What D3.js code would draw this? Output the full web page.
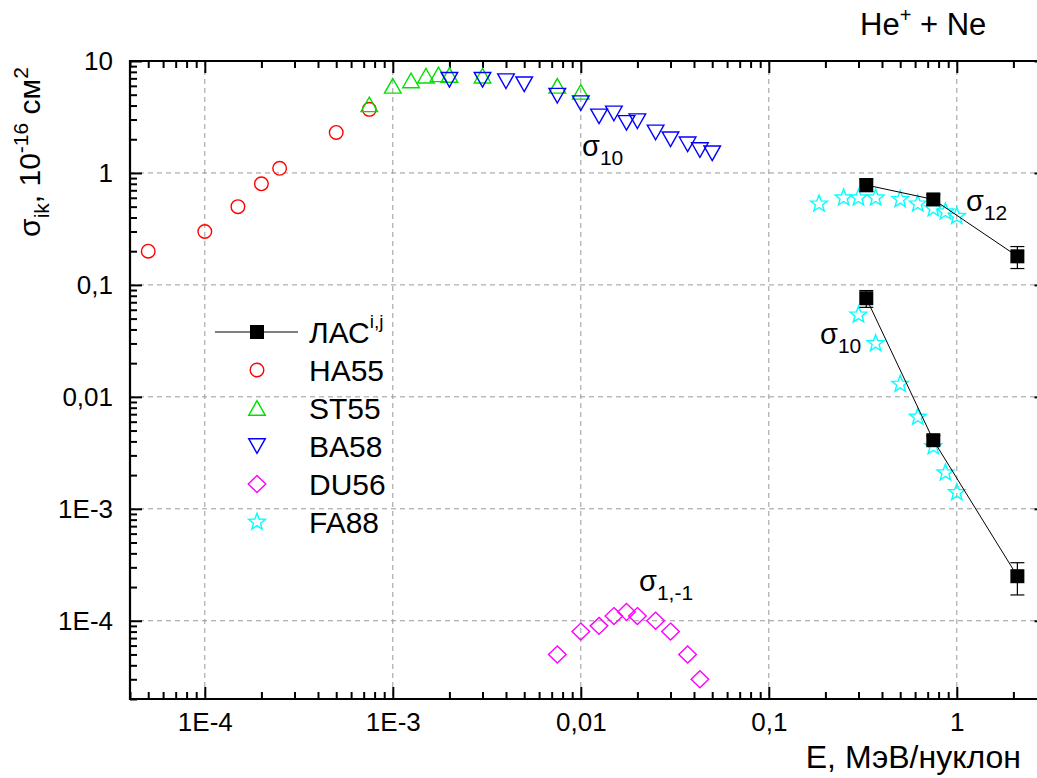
<!DOCTYPE html>
<html>
<head>
<meta charset="utf-8">
<script src="https://cdn.jsdelivr.net/npm/d3@7/dist/d3.min.js"></script>
<style>
  html, body { margin: 0; padding: 0; background: #fff; }
  svg { display: block; font-family: Arial, "Liberation Sans", sans-serif; }
</style>
</head>
<body>
<svg id="chart" width="1037" height="778"></svg>
<script>
// Energy (MeV/nucleon) and cross sections (10^-16 cm^2) for He+ + Ne
const ha55E = [5e-5, 1e-4, 1.5e-4, 2e-4, 2.5e-4, 5e-4, 7.5e-4];
const ha55S = [0.2, 0.3, 0.5, 0.8, 1.1, 2.3, 3.7];

const st55E = [7.5e-4, 1e-3, 1.25e-3, 1.5e-3, 1.75e-3, 2e-3, 3e-3, 7.5e-3, 0.01];
const st55S = [4.1, 6.0, 6.7, 7.4, 7.6, 7.5, 7.4, 6.0, 5.3];

const ba58E = [2e-3, 3e-3, 4e-3, 5e-3, 7.5e-3, 0.01, 0.0125, 0.015, 0.0175, 0.02, 0.025, 0.03, 0.037, 0.043, 0.05];
const ba58S = [6.8, 6.8, 6.6, 6.2, 4.9, 4.2, 3.2, 3.4, 2.8, 2.9, 2.3, 2.0, 1.8, 1.6, 1.5];

const du56E = [7.5e-3, 0.01, 0.0125, 0.015, 0.0175, 0.02, 0.025, 0.03, 0.037, 0.043];
const du56S = [5e-5, 8e-5, 9e-5, 1.1e-4, 1.2e-4, 1.1e-4, 1e-4, 8e-5, 5e-5, 3e-5];

const fa88E = [0.185, 0.25, 0.3, 0.37, 0.5, 0.62, 0.75, 0.87, 1.0,
               0.3, 0.37, 0.5, 0.62, 0.75, 0.87, 1.0];
const fa88S = [0.53, 0.6, 0.6, 0.6, 0.58, 0.53, 0.48, 0.45, 0.41,
               0.054, 0.03, 0.013, 0.0066, 0.0036, 0.0021, 0.0014];

// ЛАС measurements, two channels, with error bars
const lasE = [0.33, 0.75, 2.1];
const las12S = [0.78, 0.58, 0.18];
const las12Err = [0.1, 0.06, 0.04];
const las10S = [0.076, 0.0041, 0.00025];
const las10Err = [0.013, 0.0004, 0.00008];

const xMajor = [1e-4, 1e-3, 0.01, 0.1, 1];
const xMajorLabels = ["1E-4", "1E-3", "0,01", "0,1", "1"];
const yMajor = [1e-4, 1e-3, 0.01, 0.1, 1, 10];
const yMajorLabels = ["1E-4", "1E-3", "0,01", "0,1", "1", "10"];

const legendNames = ["ЛАС", "HA55", "ST55", "BA58", "DU56", "FA88"];

const svg = d3.select("#chart");
const plotLeft = 130, plotRight = 1046.5, plotTop = 61, plotBottom = 699;

const x = d3.scaleLog().domain([4e-5, 3]).range([plotLeft, plotRight]);
const y = d3.scaleLog().domain([2e-5, 10]).range([plotBottom, plotTop]);

function minorTicks(lo, hi) {
  const out = [];
  for (let e = Math.floor(Math.log10(lo)); e <= Math.ceil(Math.log10(hi)); e++) {
    for (let k = 2; k <= 9; k++) {
      const v = k * Math.pow(10, e);
      if (v >= lo && v <= hi) out.push(v);
    }
  }
  return out;
}
const xMinor = minorTicks(4e-5, 3);
const yMinor = minorTicks(2e-5, 10);

// grid
const grid = svg.append("g").attr("stroke", "#999").attr("stroke-width", 1)
  .attr("stroke-dasharray", "5,4");
grid.selectAll("line.gx").data(xMajor).join("line").attr("class", "gx")
  .attr("x1", d => x(d)).attr("x2", d => x(d)).attr("y1", plotTop).attr("y2", plotBottom);
grid.selectAll("line.gy").data(yMajor.filter(v => v < 10)).join("line").attr("class", "gy")
  .attr("x1", plotLeft).attr("x2", plotRight).attr("y1", d => y(d)).attr("y2", d => y(d));

// axes
function styleAxis(g) {
  g.select(".domain").remove();
  g.selectAll(".tick line").attr("stroke", "#000").attr("stroke-width", 2);
  g.selectAll(".tick text").attr("fill", "#000").attr("font-size", 26)
    .attr("font-family", "Arial, 'Liberation Sans', sans-serif");
}
// bottom
svg.append("g").attr("transform", `translate(0,${plotBottom})`)
  .call(d3.axisBottom(x).tickValues(xMajor).tickSize(-12).tickPadding(14)
    .tickFormat((d, i) => xMajorLabels[i]))
  .call(styleAxis);
svg.append("g").attr("transform", `translate(0,${plotBottom})`)
  .call(d3.axisBottom(x).tickValues(xMinor).tickSize(-7).tickFormat(""))
  .call(styleAxis);
// top
svg.append("g").attr("transform", `translate(0,${plotTop})`)
  .call(d3.axisTop(x).tickValues(xMajor).tickSize(-12).tickFormat(""))
  .call(styleAxis);
svg.append("g").attr("transform", `translate(0,${plotTop})`)
  .call(d3.axisTop(x).tickValues(xMinor).tickSize(-7).tickFormat(""))
  .call(styleAxis);
// left
svg.append("g").attr("transform", `translate(${plotLeft},0)`)
  .call(d3.axisLeft(y).tickValues(yMajor).tickSize(-12).tickPadding(17)
    .tickFormat((d, i) => yMajorLabels[i]))
  .call(styleAxis);
svg.append("g").attr("transform", `translate(${plotLeft},0)`)
  .call(d3.axisLeft(y).tickValues(yMinor).tickSize(-7).tickFormat(""))
  .call(styleAxis);
// right
svg.append("g").attr("transform", `translate(${plotRight},0)`)
  .call(d3.axisRight(y).tickValues(yMajor).tickSize(-12).tickFormat(""))
  .call(styleAxis);
svg.append("g").attr("transform", `translate(${plotRight},0)`)
  .call(d3.axisRight(y).tickValues(yMinor).tickSize(-7).tickFormat(""))
  .call(styleAxis);

// frame
const frame = svg.append("g").attr("stroke", "#000").attr("stroke-width", 2.2).attr("fill", "none");
frame.append("line").attr("x1", plotLeft).attr("x2", plotLeft).attr("y1", plotTop - 1).attr("y2", plotBottom + 1);
frame.append("line").attr("x1", plotLeft - 1).attr("x2", plotRight).attr("y1", plotBottom).attr("y2", plotBottom);
frame.append("line").attr("x1", plotLeft - 1).attr("x2", plotRight).attr("y1", plotTop).attr("y2", plotTop);
frame.append("line").attr("x1", plotRight).attr("x2", plotRight).attr("y1", plotTop).attr("y2", plotBottom);

// marker shapes
function shapePath(type) {
  switch (type) {
    case "circle": {
      const r = 6.8;
      return `M${r},0A${r},${r} 0 1,1 ${-r},0A${r},${r} 0 1,1 ${r},0Z`;
    }
    case "up": return "M0,-7.3L8.3,7.3L-8.3,7.3Z";
    case "down": return "M0,7.3L8.3,-7.3L-8.3,-7.3Z";
    case "diamond": return "M0,-8.5L8.8,0L0,8.5L-8.8,0Z";
    case "square": return "M-7,-7L7,-7L7,7L-7,7Z";
    case "star": {
      const R = 8.8, r = 3.7;
      let p = "";
      for (let i = 0; i < 10; i++) {
        const a = -Math.PI / 2 + i * Math.PI / 5;
        const rr = i % 2 === 0 ? R : r;
        p += (i === 0 ? "M" : "L") + (rr * Math.cos(a)).toFixed(2) + "," + (rr * Math.sin(a)).toFixed(2);
      }
      return p + "Z";
    }
  }
}

function scatter(E, S, type, color) {
  svg.append("g").selectAll("path").data(E.map((e, i) => [e, S[i]])).join("path")
    .attr("d", shapePath(type))
    .attr("transform", d => `translate(${x(d[0])},${y(d[1])})`)
    .attr("fill", "none").attr("stroke", color).attr("stroke-width", 1.4);
}

scatter(ha55E, ha55S, "circle", "#ff0000");
scatter(st55E, st55S, "up", "#00e000");
scatter(ba58E, ba58S, "down", "#0000ff");
scatter(du56E, du56S, "diamond", "#ff00ff");
scatter(fa88E, fa88S, "star", "#00ffff");

// ЛАС series: line, error bars, filled squares
function lasSeries(S, Err) {
  const pts = lasE.map((e, i) => ({ e, s: S[i], err: Err[i] }));
  const g = svg.append("g");
  g.append("path").datum(pts)
    .attr("d", d3.line().x(d => x(d.e)).y(d => y(d.s)))
    .attr("fill", "none").attr("stroke", "#000").attr("stroke-width", 1);
  const eb = g.selectAll("g.eb").data(pts).join("g").attr("stroke", "#000").attr("stroke-width", 1.2);
  eb.append("line").attr("x1", d => x(d.e)).attr("x2", d => x(d.e))
    .attr("y1", d => y(d.s + d.err)).attr("y2", d => y(d.s - d.err));
  eb.append("line").attr("x1", d => x(d.e) - 7).attr("x2", d => x(d.e) + 7)
    .attr("y1", d => y(d.s + d.err)).attr("y2", d => y(d.s + d.err));
  eb.append("line").attr("x1", d => x(d.e) - 7).attr("x2", d => x(d.e) + 7)
    .attr("y1", d => y(d.s - d.err)).attr("y2", d => y(d.s - d.err));
  g.selectAll("path.sq").data(pts).join("path").attr("class", "sq")
    .attr("d", shapePath("square"))
    .attr("transform", d => `translate(${x(d.e)},${y(d.s)})`)
    .attr("fill", "#000");
}
lasSeries(las12S, las12Err);
lasSeries(las10S, las10Err);

// sigma annotations
function sigmaLabel(px, py, sub) {
  const t = svg.append("text").attr("x", px).attr("y", py)
    .attr("font-size", 29).attr("fill", "#000");
  t.append("tspan").text("σ");
  t.append("tspan").attr("font-size", 21).attr("dy", 9).text(sub);
}
sigmaLabel(582, 156, "10");
sigmaLabel(966, 211, "12");
sigmaLabel(820, 344, "10");
sigmaLabel(639, 591, "1,-1");

// legend
const legendTypes = ["square", "circle", "up", "down", "diamond", "star"];
const legendColors = ["#000", "#ff0000", "#00e000", "#0000ff", "#ff00ff", "#00ffff"];
const lg = svg.append("g");
legendNames.forEach((name, i) => {
  const cy = 332 + i * 38;
  if (i === 0) {
    lg.append("line").attr("x1", 215).attr("x2", 298).attr("y1", cy).attr("y2", cy)
      .attr("stroke", "#000").attr("stroke-width", 1);
  }
  lg.append("path").attr("d", shapePath(legendTypes[i]))
    .attr("transform", `translate(257,${cy})`)
    .attr("fill", i === 0 ? "#000" : "none")
    .attr("stroke", legendColors[i]).attr("stroke-width", i === 0 ? 0 : 1.4);
  const t = lg.append("text").attr("x", 309).attr("y", cy + 11)
    .attr("font-size", 30).attr("fill", "#000").text(name);
  if (i === 0) {
    t.append("tspan").attr("font-size", 19).attr("dy", -15).text("i,j");
  }
});

// axis titles
svg.append("text").attr("x", 1021).attr("y", 768).attr("text-anchor", "end")
  .attr("font-size", 32).attr("fill", "#000").text("E, МэВ/нуклон");

const yt = svg.append("text").attr("transform", "translate(40,152) rotate(-90)")
  .attr("text-anchor", "middle").attr("font-size", 30).attr("fill", "#000");
yt.append("tspan").text("σ");
yt.append("tspan").attr("font-size", 21).attr("dy", 9).text("ik");
yt.append("tspan").attr("dy", -9).text(", 10");
yt.append("tspan").attr("font-size", 21).attr("dy", -12).text("-16");
yt.append("tspan").attr("dy", 12).text(" см");
yt.append("tspan").attr("font-size", 21).attr("dy", -12).text("2");

// reaction header
const hd = svg.append("text").attr("x", 860).attr("y", 35)
  .attr("font-size", 31).attr("fill", "#000");
hd.append("tspan").text("He");
hd.append("tspan").attr("font-size", 20).attr("dy", -13).text("+");
hd.append("tspan").attr("dy", 13).text(" + Ne");
</script>
</body>
</html>
